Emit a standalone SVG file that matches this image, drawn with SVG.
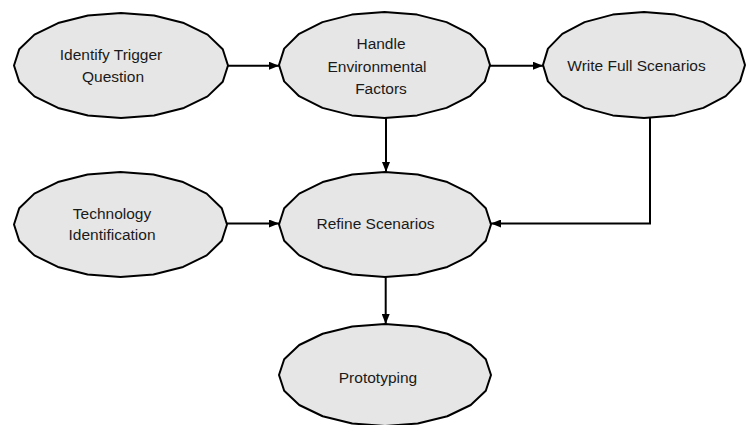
<svg xmlns="http://www.w3.org/2000/svg" xmlns:xlink="http://www.w3.org/1999/xlink" width="746" height="425" viewBox="0 0 746 425">
  <style>
    .node-shape { fill: #e6e6e6; stroke: #000; stroke-width: 2; stroke-linejoin: round; }
    .label { font-family: "Liberation Sans", Arial, Helvetica, sans-serif; font-size: 15.5px; fill: #1a1a1a; text-anchor: middle; }
    .edge { fill: none; stroke: #000; stroke-width: 2; }
  </style>
  <defs>
    <!-- unit 20-gon, scaled per node; stroke kept at constant width -->
    <polygon id="blob" vector-effect="non-scaling-stroke"
      points="1,0 .951,.309 .809,.588 .588,.809 .309,.951 0,1 -.309,.951 -.588,.809 -.809,.588 -.951,.309 -1,0 -.951,-.309 -.809,-.588 -.588,-.809 -.309,-.951 0,-1 .309,-.951 .588,-.809 .809,-.588 .951,-.309"/>
    <marker id="arrow" viewBox="0 0 10 8" refX="10" refY="4" markerWidth="10" markerHeight="8" markerUnits="userSpaceOnUse" orient="auto">
      <path d="M0,0 L10,4 L0,8 Z" fill="#000"/>
    </marker>
  </defs>

  <g id="edges">
    <path class="edge" d="M228,65.7 H279" marker-end="url(#arrow)"/>
    <path class="edge" d="M490,65.7 H543" marker-end="url(#arrow)"/>
    <path class="edge" d="M386,118 V172" marker-end="url(#arrow)"/>
    <path class="edge" d="M650,118 V223.5 H491" marker-end="url(#arrow)"/>
    <path class="edge" d="M227,223.5 H279" marker-end="url(#arrow)"/>
    <path class="edge" d="M385.7,277 V324" marker-end="url(#arrow)"/>
  </g>

  <g id="identify-trigger-question">
    <use xlink:href="#blob" class="node-shape" transform="translate(121,65.5) scale(107,52.5)"/>
    <text class="label" x="111" y="60">Identify Trigger</text>
    <text class="label" x="113" y="82">Question</text>
  </g>

  <g id="handle-environmental-factors">
    <use xlink:href="#blob" class="node-shape" transform="translate(384.5,65) scale(105.5,53)"/>
    <text class="label" x="381" y="49">Handle</text>
    <text class="label" x="377" y="71.5">Environmental</text>
    <text class="label" x="381" y="94">Factors</text>
  </g>

  <g id="write-full-scenarios">
    <use xlink:href="#blob" class="node-shape" transform="translate(644,65) scale(101,53)"/>
    <text class="label" x="636.5" y="71">Write Full Scenarios</text>
  </g>

  <g id="technology-identification">
    <use xlink:href="#blob" class="node-shape" transform="translate(120.5,224.5) scale(106.5,52.5)"/>
    <text class="label" x="112" y="219">Technology</text>
    <text class="label" x="112" y="240">Identification</text>
  </g>

  <g id="refine-scenarios">
    <use xlink:href="#blob" class="node-shape" transform="translate(385,224.5) scale(106,52.5)"/>
    <text class="label" x="375.5" y="229">Refine Scenarios</text>
  </g>

  <g id="prototyping">
    <use xlink:href="#blob" class="node-shape" transform="translate(385,375) scale(106,51)"/>
    <text class="label" x="378" y="383">Prototyping</text>
  </g>
</svg>
